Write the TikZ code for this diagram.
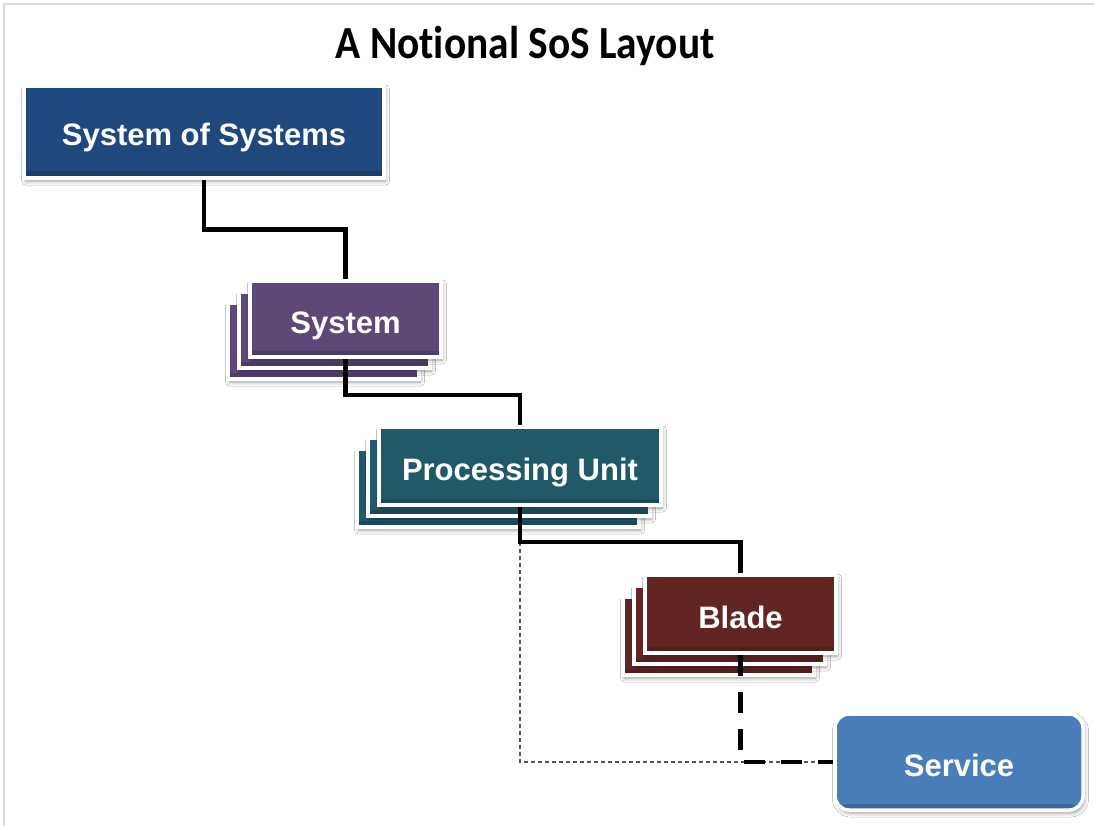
\documentclass[tikz,border=0pt]{standalone}
\usepackage{fontspec}
\setmainfont{Liberation Sans}
\newfontfamily\titlefont{Carlito}[Ligatures=NoCommon]
\usetikzlibrary{shadows.blur}

\definecolor{sosblue}{HTML}{1F487C}
\definecolor{syspurple}{HTML}{5E4878}
\definecolor{procteal}{HTML}{215968}
\definecolor{bladered}{HTML}{632523}
\definecolor{svcblue}{HTML}{4A7EBB}
\definecolor{frameline}{HTML}{DADADA}
\definecolor{thindash}{HTML}{555555}

\begin{document}
\begin{tikzpicture}[x=1pt,y=-1pt,
  tile/.style={draw=white, line width=3.5pt, inner sep=0pt, text=white,
    font=\fontsize{31}{36}\selectfont\bfseries,
    text height=28pt, text depth=0pt,
    blur shadow={shadow xshift=1.5pt, shadow yshift=-3pt,
      shadow blur radius=4pt, shadow opacity=40},
    path picture={\shade[top color=black!0, bottom color=black, opacity=.2]
      ([yshift=6pt]path picture bounding box.south west)
      rectangle (path picture bounding box.south east);}},
  sostile/.style={tile, fill=sosblue, minimum width=360pt, minimum height=92pt},
  systile/.style={tile, fill=syspurple, minimum width=191pt, minimum height=76pt},
  proctile/.style={tile, fill=procteal, minimum width=282pt, minimum height=78pt},
  bladetile/.style={tile, fill=bladered, minimum width=191pt, minimum height=78pt},
  svctile/.style={tile, fill=svcblue, rounded corners=14pt,
    minimum width=248pt, minimum height=96pt},
  link/.style={line width=4.5pt, black},
  dashlink/.style={line width=4.5pt, black, dash pattern=on 21pt off 16pt},
  thinlink/.style={line width=1.1pt, thindash, dash pattern=on 4pt off 3pt}]

% page and frame
\useasboundingbox (0,0) rectangle (1094,826);
\fill[white] (0,0) rectangle (1094,826);
\draw[frameline, line width=1.2pt] (4,826) -- (4,4) -- (1094,4);

% title
\node[font=\titlefont\fontsize{46}{50}\selectfont\bfseries, xscale=0.9]
  (title) at (525,46) {A Notional SoS Layout};

% stacked tiles (back copies first)
\node[systile] (sysc) at (323.5,341) {};
\node[systile] (sysb) at (334.5,330) {};
\node[proctile] (procc) at (498,488) {};
\node[proctile] (procb) at (509,477) {};
\node[bladetile] (bladec) at (718.5,636) {};
\node[bladetile] (bladeb) at (729.5,625) {};

% front tiles
\node[sostile] (sos) at (204,132) {System of Systems};
\node[systile] (sys) at (345.5,319) {System};
\node[proctile] (proc) at (520,466) {Processing Unit};
\node[bladetile] (blade) at (740.5,614) {Blade};
\node[svctile] (svc) at (959,762) {Service};

% connectors
\draw[thinlink] (proc.south) |- (svc.west);
\draw[link] (sos.south) -- ++(0,50) -| (sys.north);
\draw[link] (sys.south) -- ++(0,36) -| (proc.north);
\draw[link] (proc.south) -- ++(0,35) -| (blade.north);
\draw[dashlink] (blade.south) |- (svc.west);
\end{tikzpicture}
\end{document}
